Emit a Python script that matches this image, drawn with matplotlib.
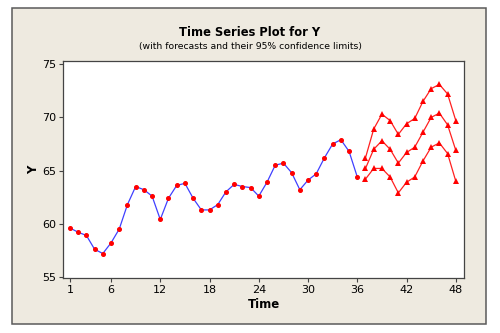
"""
Time series plot with forecasts and 95% limits (Minitab-style).
"""

import matplotlib.pyplot as plt
from matplotlib.patches import Rectangle

# ──────────────────────────────────────────────────────────────────────
#  Data
# ──────────────────────────────────────────────────────────────────────

observed = [
    59.6, 59.2, 58.9, 57.6, 57.2, 58.2, 59.5, 61.8, 63.5, 63.2,
    62.6, 60.4, 62.4, 63.6, 63.8, 62.4, 61.3, 61.3, 61.8, 63.0,
    63.7, 63.5, 63.4, 62.6, 63.9, 65.5, 65.7, 64.8, 63.2, 64.1,
    64.7, 66.2, 67.5, 67.9, 66.8, 64.4,
]
forecast = [65.2, 67.0, 67.8, 67.0, 65.7, 66.7, 67.2, 68.6, 70.0, 70.4, 69.3, 66.9]
upper = [66.2, 68.9, 70.3, 69.7, 68.4, 69.4, 69.9, 71.5, 72.7, 73.1, 72.2, 69.7]
lower = [64.2, 65.2, 65.2, 64.4, 62.9, 63.9, 64.4, 65.9, 67.2, 67.6, 66.6, 64.0]

x_ticks = [1, 6, 12, 18, 24, 30, 36, 42, 48]
y_ticks = [55, 60, 65, 70, 75]

t_obs = list(range(1, len(observed) + 1))
t_fc = list(range(len(observed) + 1, len(observed) + 1 + len(forecast)))

# ──────────────────────────────────────────────────────────────────────
#  Figure
# ──────────────────────────────────────────────────────────────────────

BG = "#EEEAE0"

fig = plt.figure(figsize=(5.0, 3.33), dpi=100, facecolor="white")

# beige panel with dark frame, kept behind the axes
fig.patches.append(Rectangle((12 / 500, 1 - 324 / 333), 474 / 500, 316 / 333,
                             transform=fig.transFigure, facecolor=BG,
                             edgecolor="#5A5A5A", linewidth=1.1, zorder=-1))

ax = fig.add_axes([63 / 500, 1 - 278 / 333, 401 / 500, 217 / 333])
ax.set_zorder(1)
ax.set_facecolor("white")

ax.plot(t_obs, observed, color="#4040FF", linewidth=0.9, zorder=2)
ax.plot(t_obs, observed, linestyle="none", marker="o", markersize=2.6,
        color="red", zorder=3)

for series in (upper, forecast, lower):
    ax.plot(t_fc, series, color="#FF2020", linewidth=0.9, marker="^",
            markersize=4.5, markerfacecolor="red", markeredgewidth=0,
            zorder=3)

ax.set_xlim(0.15, 49.0)
ax.set_ylim(54.9, 75.3)
ax.set_xticks(x_ticks)
ax.set_yticks(y_ticks)
ax.tick_params(direction="out", length=3, width=0.8, color="#444444",
               labelsize=8, pad=2)

for spine in ax.spines.values():
    spine.set_color("#444444")
    spine.set_linewidth(0.9)

ax.set_xlabel("Time", fontsize=8.5, fontweight="bold", labelpad=2)
ax.set_ylabel("Y", fontsize=8.5, fontweight="bold", labelpad=1, rotation=90)

fig.text(0.5, 1 - 32 / 333, "Time Series Plot for Y", ha="center",
         va="center", fontsize=8.3, fontweight="bold", zorder=2)
fig.text(0.5, 1 - 46 / 333, "(with forecasts and their 95% confidence limits)",
         ha="center", va="center", fontsize=6.7, zorder=2)

fig.savefig("out.png", dpi=100, facecolor="white")
